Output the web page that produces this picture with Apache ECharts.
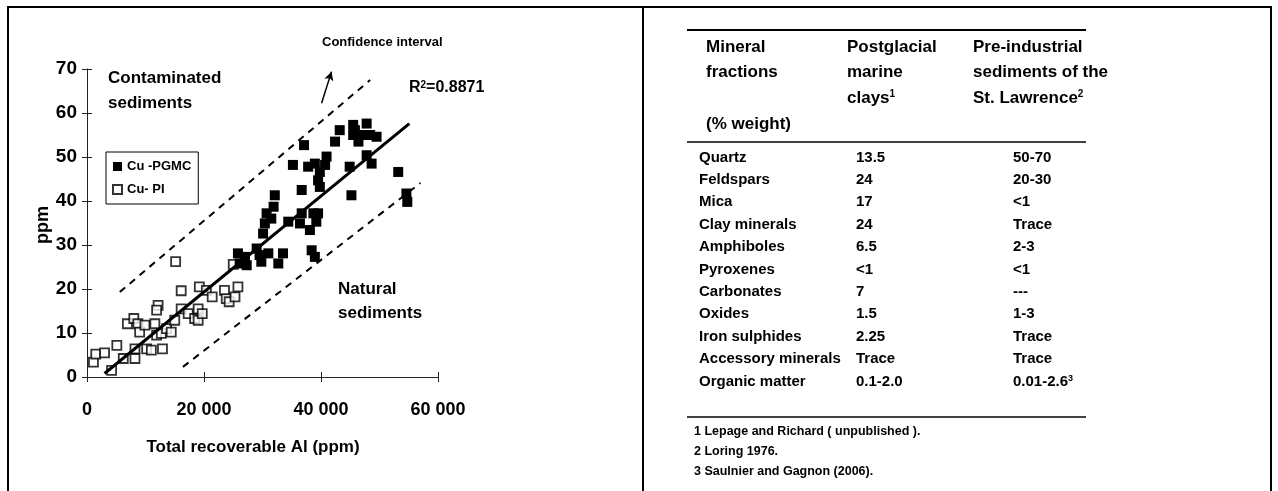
<!DOCTYPE html>
<html>
<head>
<meta charset="utf-8">
<script src="https://cdn.jsdelivr.net/npm/echarts@6/dist/echarts.min.js"></script>
<style>
html,body{margin:0;padding:0;background:#fff;}
#chart{width:1278px;height:491px;}
</style>
</head>
<body>
<div id="chart"></div>
<script>
// ---- Data: scatter (Total recoverable Al ppm, Cu ppm) ----
const piX = [1100,1500,3000,4200,5100,6200,6900,8000,8200,8200,8700,9000,9900,10200,11000,11600,11900,12150,11900,12700,12900,13600,14400,15000,15150,16100,16100,17300,18400,19000,19000,19200,19700,20400,21400,23500,23800,24300,25300,25800,25000];
const piY = [3.4,5.2,5.5,1.5,7.2,4.2,12.1,13.3,6.4,4.2,12.1,10.2,11.8,6.4,6.1,12.1,9.5,16.3,15.2,9.9,6.4,11.0,10.2,12.9,26.2,19.6,15.5,14.4,13.3,15.5,12.9,20.5,14.4,19.7,18.2,19.7,17.8,17.1,18.2,20.5,25.6];
const pgmcX = [25800,26100,27000,27300,29000,29500,29800,30100,30400,30700,31000,31500,31900,32100,32700,33500,34400,35200,36700,37100,36700,36400,37800,38100,38400,38700,38950,39200,39500,39500,39800,39800,38950,40700,40950,42400,43200,44900,45200,45500,45500,45800,46400,46900,47800,47800,48400,48650,49500,53200,54600,54750];
const pgmcY = [28.1,25.8,27.3,25.4,29.2,27.7,26.2,32.6,34.9,37.2,28.1,36.0,38.7,41.3,25.8,28.1,35.3,48.2,42.5,52.7,37.2,34.9,47.8,33.4,28.8,37.2,27.3,35.3,37.2,44.7,46.6,43.2,48.5,48.2,50.1,53.5,56.1,47.8,41.3,57.3,55.0,56.1,53.5,55.0,57.6,50.4,55.0,48.5,54.6,46.6,41.7,39.8];

// regression line and confidence interval endpoints (x, y)
const fitX = [3000, 55100];
const fitY = [0.8, 57.6];
const upperX = [5600, 48400];
const upperY = [19.3, 67.5];
const lowerX = [16400, 57000];
const lowerY = [2.3, 44.1];
const arrowX = [40100, 41800];
const arrowY = [62.2, 69.4];

const xTicks = [0, 20000, 40000, 60000];
const yTicks = [0, 10, 20, 30, 40, 50, 60, 70];

// ---- Data: table ----
const headerCol1 = ['Mineral', 'fractions', '', '(% weight)'];
const headerCol2 = ['Postglacial', 'marine', 'clays{sup|1}'];
const headerCol3 = ['Pre-industrial', 'sediments of the', 'St. Lawrence{sup|2}'];
const mineralNames = ['Quartz','Feldspars','Mica','Clay minerals','Amphiboles','Pyroxenes','Carbonates','Oxides','Iron sulphides','Accessory minerals','Organic matter'];
const postglacialValues = ['13.5','24','17','24','6.5','<1','7','1.5','2.25','Trace','0.1-2.0'];
const preIndustrialValues = ['50-70','20-30','<1','Trace','2-3','<1','---','1-3','Trace','Trace','0.01-2.6{sup|3}'];
const footnotes = ['1 Lepage and Richard ( unpublished ).', '2 Loring 1976.', '3 Saulnier and Gagnon (2006).'];

const zip = (a, b) => a.map((v, i) => [v, b[i]]);
const FONT = "'Liberation Sans', Arial, sans-serif";

const chart = echarts.init(document.getElementById('chart'), null, {renderer: 'canvas'});

const graphics = [];
// frame
const frame = (x1, y1, x2, y2) => graphics.push({type: 'line', shape: {x1, y1, x2, y2}, style: {stroke: '#000', lineWidth: 2}, silent: true});
frame(7, 7, 1272, 7);
frame(8, 6, 8, 491);
frame(643, 6, 643, 491);
frame(1271, 6, 1271, 491);

const txt = (x, y, text, size, opts) => graphics.push(Object.assign({
  type: 'text', silent: true,
  style: Object.assign({x, y, text, font: 'bold ' + size + 'px ' + FONT, fill: '#000', align: 'left', verticalAlign: 'middle',
    rich: {sup: {fontSize: Math.round(size * 0.6), fontWeight: 'bold', fontFamily: FONT, verticalAlign: 'top', padding: [0, 0, Math.round(size * 0.35), 0]}}
  }, opts || {})
}));

// chart annotations
txt(322, 42, 'Confidence interval', 13);
txt(108, 78, 'Contaminated', 17);
txt(108, 103, 'sediments', 17);
txt(409, 88, 'R{sup|2}=0.8871', 16);
txt(338, 289, 'Natural', 17);
txt(338, 313, 'sediments', 17);
txt(253, 447, 'Total recoverable Al (ppm)', 17, {align: 'center'});
graphics.push({type: 'text', silent: true, x: 43, y: 225, rotation: Math.PI / 2,
  style: {x: 0, y: 0, text: 'ppm', font: 'bold 18px ' + FONT, fill: '#000', align: 'center', verticalAlign: 'middle'}});

// table rules
const rule = (y, w) => graphics.push({type: 'line', shape: {x1: 687, y1: y, x2: 1086, y2: y}, style: {stroke: '#000', lineWidth: w}, silent: true});
rule(30, 2);
rule(142, 1.5);
rule(417, 1.5);

headerCol1.forEach((t, i) => { if (t) txt(706, 47 + i * 25.7, t, 17); });
headerCol2.forEach((t, i) => txt(847, 47 + i * 25.5, t, 17));
headerCol3.forEach((t, i) => txt(973, 47 + i * 25.5, t, 17));
mineralNames.forEach((t, i) => {
  const y = 157.5 + i * 22.4;
  txt(699, y, t, 15);
  txt(856, y, postglacialValues[i], 15);
  txt(1013, y, preIndustrialValues[i], 15);
});
footnotes.forEach((t, i) => txt(694, 432 + i * 20, t, 12.5));

const axisTextStyle = {color: '#000', fontWeight: 'bold', fontFamily: FONT};

const option = {
  backgroundColor: '#fff',
  animation: false,
  grid: {left: 87, top: 69, width: 351, height: 308, containLabel: false},
  legend: {
    orient: 'vertical', left: 106, top: 152,
    data: ['Cu -PGMC', 'Cu- PI'],
    borderColor: '#000', borderWidth: 1, borderRadius: 0,
    padding: [8, 7, 8, 6], itemGap: 10, itemWidth: 9, itemHeight: 9,
    textStyle: {color: '#000', fontWeight: 'bold', fontSize: 13, fontFamily: FONT},
    selectedMode: false
  },
  xAxis: [{
    type: 'value', min: 0, max: 60000, interval: 20000,
    axisLine: {show: true, onZero: false, lineStyle: {color: '#222', width: 1}},
    axisTick: {show: true, length: 5, lineStyle: {color: '#222'}},
    splitLine: {show: false},
    axisLabel: Object.assign({fontSize: 18, margin: 24, formatter: v => v === 0 ? '0' : String(v).replace(/\B(?=(\d{3})+(?!\d))/g, ' ')}, axisTextStyle)
  }, {
    type: 'value', min: 0, max: 60000, interval: 20000, position: 'bottom',
    axisLine: {show: false}, axisTick: {show: true, inside: true, length: 5, lineStyle: {color: '#222'}},
    axisLabel: {show: false}, splitLine: {show: false}
  }],
  yAxis: [{
    type: 'value', min: 0, max: 70, interval: 10,
    axisLine: {show: true, onZero: false, lineStyle: {color: '#222', width: 1}},
    axisTick: {show: true, length: 5, lineStyle: {color: '#222'}},
    splitLine: {show: false},
    axisLabel: Object.assign({fontSize: 19, margin: 10}, axisTextStyle)
  }, {
    type: 'value', min: 0, max: 70, interval: 10, position: 'left',
    axisLine: {show: false}, axisTick: {show: true, inside: true, length: 5, lineStyle: {color: '#222'}},
    axisLabel: {show: false}, splitLine: {show: false}
  }],
  series: [
    {
      name: 'Upper', type: 'line', data: zip(upperX, upperY), symbol: 'none', silent: true,
      lineStyle: {color: '#000', width: 2, type: [7, 6]}
    },
    {
      name: 'Lower', type: 'line', data: zip(lowerX, lowerY), symbol: 'none', silent: true,
      lineStyle: {color: '#000', width: 2, type: [7, 6]}
    },
    {
      name: 'Cu- PI', type: 'scatter', data: zip(piX, piY), symbol: 'rect', symbolSize: 9,
      itemStyle: {color: '#fff', borderColor: '#000', borderWidth: 1.8}
    },
    {
      name: 'Cu -PGMC', type: 'scatter', data: zip(pgmcX, pgmcY), symbol: 'rect', symbolSize: 10,
      itemStyle: {color: '#000', borderColor: '#000', borderWidth: 0, opacity: 1}
    },
    {
      name: 'Fit', type: 'line', data: zip(fitX, fitY), symbol: 'none', silent: true, z: 5,
      lineStyle: {color: '#000', width: 3},
      markLine: {
        silent: true, symbol: ['none', 'arrow'], symbolSize: [7, 9],
        label: {show: false},
        lineStyle: {color: '#000', width: 1.5, type: 'solid'},
        data: [[{coord: [arrowX[0], arrowY[0]]}, {coord: [arrowX[1], arrowY[1]]}]]
      }
    }
  ],
  graphic: graphics
};
chart.setOption(option);
</script>
</body>
</html>
